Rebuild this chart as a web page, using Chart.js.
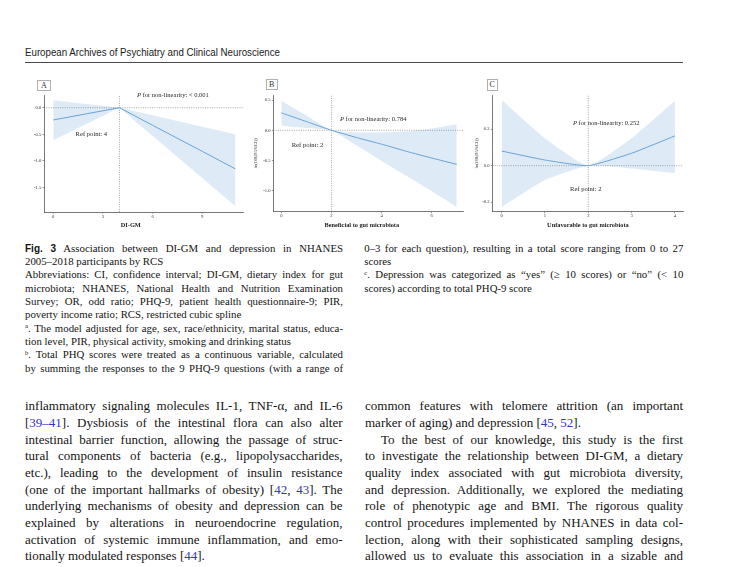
<!DOCTYPE html>
<html><head><meta charset="utf-8">
<script src="https://cdn.jsdelivr.net/npm/chart.js@4.4.0/dist/chart.umd.min.js"></script>
<style>
html,body{margin:0;padding:0;background:#fff;}
body{width:736px;height:567px;position:relative;overflow:hidden;font-family:"Liberation Serif","Times New Roman",serif;color:#141414;}
.ln{position:absolute;white-space:nowrap;}
.ln span.in{display:inline-block;white-space:nowrap;}
.cap{font-size:10.8px;height:13.33px;line-height:13.33px;}
.bd{font-size:13px;height:16.67px;line-height:16.67px;}
.ref{color:#3434c4;}
.fig{font-family:"Liberation Sans",Arial,sans-serif;font-weight:bold;font-size:10px;}
sup{font-size:0.62em;vertical-align:0;position:relative;top:-0.5em;}
.box{position:absolute;border:0.8px solid #b0b0b0;font-size:8px;text-align:center;color:#333;box-sizing:border-box;}
canvas{position:absolute;}
#hdr{position:absolute;left:25px;top:46px;font-family:"Liberation Sans",Arial,sans-serif;font-size:10.5px;line-height:12px;white-space:nowrap;transform-origin:0 50%;color:#1a1a1a;}
#rule{position:absolute;left:25px;top:62px;width:658px;height:1.4px;background:#4a4a4a;}
</style></head>
<body>
<div id="hdr">European Archives of Psychiatry and Clinical Neuroscience</div>
<div id="rule"></div>

<div class="box" style="left:37px;top:80px;width:14px;height:11px;line-height:10px;">A</div>
<div class="box" style="left:266px;top:79px;width:11.5px;height:11px;line-height:10px;">B</div>
<div class="box" style="left:486.5px;top:79px;width:11.5px;height:11.5px;line-height:10.5px;">C</div>

<canvas id="cA" width="220" height="142" style="left:28px;top:88px;width:220px;height:142px;"></canvas>
<canvas id="cB" width="218" height="142" style="left:250px;top:88px;width:218px;height:142px;"></canvas>
<canvas id="cC" width="216" height="142" style="left:472px;top:88px;width:216px;height:142px;"></canvas>

<script>
// ---------- Panel A: DI-GM ----------
const A_X      = [0, 2, 4, 6, 9, 11];
const A_FIT    = [-0.23, -0.115, 0, -0.33, -0.82, -1.15];
const A_UPPER  = [0.14, 0.07, 0, -0.14, -0.36, -0.50];
const A_LOWER  = [-0.61, -0.305, 0, -0.53, -1.32, -1.85];
const A_XTICKS = [0, 3, 6, 9];
const A_YTICKS = [0, -0.5, -1.0, -1.5];
const A_REF    = 4;
const A_XTITLE = "DI-GM";
const A_PTEXT  = " for non-linearity: < 0.001";
const A_REFTXT = "Ref point: 4";

// ---------- Panel B: Beneficial to gut microbiota ----------
const B_X      = [0, 1, 2, 3, 4, 5, 6, 7];
const B_FIT    = [0.29, 0.145, 0, -0.12, -0.23, -0.35, -0.46, -0.565];
const B_UPPER  = [0.49, 0.245, 0, -0.035, -0.035, -0.02, 0.03, 0.10];
const B_LOWER  = [0.076, 0.038, 0, -0.25, -0.51, -0.76, -1.01, -1.27];
const B_XTICKS = [0, 2, 4, 6];
const B_YTICKS = [0.5, 0, -0.5, -1.0];
const B_REF    = 2;
const B_XTITLE = "Beneficial to gut microbiota";
const B_PTEXT  = " for non-linearity: 0.784";
const B_REFTXT = "Ref point: 2";

// ---------- Panel C: Unfavorable to gut microbiota ----------
const C_X      = [0, 1, 2, 3, 4];
const C_FIT    = [0.08, 0.031, 0, 0.068, 0.163];
const C_UPPER  = [0.36, 0.15, 0, 0.15, 0.356];
const C_LOWER  = [-0.225, -0.078, 0, -0.016, -0.042];
const C_XTICKS = [0, 1, 2, 3, 4];
const C_YTICKS = [0.2, 0, -0.2];
const C_REF    = 2;
const C_XTITLE = "Unfavorable to gut microbiota";
const C_PTEXT  = " for non-linearity: 0.252";
const C_REFTXT = "Ref point: 2";

const Y_TITLE = "ln(OR(95%CI))";
const LINE_COLOR = '#5b9bd5';
const BAND_COLOR = '#deebf7';
const AXIS_COLOR = '#555';
const SERIF = '"Liberation Serif","Times New Roman",serif';

const notesPlugin = {
  id: 'notes',
  afterDraw(chart, args, opts) {
    const ctx = chart.ctx, xs = chart.scales.x, ys = chart.scales.y;
    ctx.save();
    ctx.textBaseline = 'middle';
    (opts.items || []).forEach(it => {
      ctx.fillStyle = it.color || '#2a2a2a';
      ctx.textAlign = it.align || 'left';
      let px = xs.getPixelForValue(it.x);
      const py = (it.yPix !== undefined) ? it.yPix : ys.getPixelForValue(it.y);
      const w = it.weight ? it.weight + ' ' : '';
      if (it.italic) {
        ctx.font = 'italic ' + it.size + 'px ' + SERIF;
        ctx.fillText(it.italic, px, py);
        px += ctx.measureText(it.italic).width;
      }
      ctx.font = w + it.size + 'px ' + SERIF;
      ctx.fillText(it.text, px, py);
    });
    ctx.restore();
  }
};

function pts(xArr, yArr) { return xArr.map((x, i) => ({x: x, y: yArr[i]})); }

function makePanel(id, P) {
  const ds = [
    {data: pts(P.x, P.fit), borderColor: LINE_COLOR, borderWidth: 0.9, pointRadius: 0, tension: P.tension, fill: false},
    {data: [{x: P.xmin, y: 0}, {x: P.xmax, y: 0}], borderColor: '#6f6f6f', borderWidth: 0.6, borderDash: [1, 1.3], pointRadius: 0, fill: false},
    {data: [{x: P.ref, y: P.ymin}, {x: P.ref, y: P.ymax}], borderColor: '#6f6f6f', borderWidth: 0.6, borderDash: [1, 1.3], pointRadius: 0, fill: false},
    {data: pts(P.x, P.upper), borderWidth: 0, borderColor: 'rgba(0,0,0,0)', pointRadius: 0, tension: P.tension, fill: '+1', backgroundColor: BAND_COLOR},
    {data: pts(P.x, P.lower), borderWidth: 0, borderColor: 'rgba(0,0,0,0)', pointRadius: 0, tension: P.tension, fill: false}
  ];
  const tickFont = {family: SERIF, size: 4.6};
  new Chart(document.getElementById(id), {
    type: 'line',
    data: {datasets: ds},
    plugins: [notesPlugin],
    options: {
      responsive: false, animation: false, maintainAspectRatio: false,
      layout: {padding: {top: 7, right: 5, left: 0, bottom: 0}},
      plugins: {
        legend: {display: false}, tooltip: {enabled: false},
        notes: {items: P.notes}
      },
      scales: {
        x: {
          type: 'linear', min: P.xmin, max: P.xmax,
          afterBuildTicks: s => { s.ticks = P.xticks.map(v => ({value: v})); },
          afterFit: s => { s.height = P.xh; },
          ticks: {font: tickFont, color: '#333', padding: 0.3, maxRotation: 0, callback: v => String(v)},
          grid: {display: true, drawOnChartArea: false, drawTicks: true, tickLength: 1.5, color: AXIS_COLOR, lineWidth: 0.6},
          border: {display: true, color: AXIS_COLOR, width: 0.8},
          title: {display: false}
        },
        y: {
          type: 'linear', min: P.ymin, max: P.ymax,
          afterBuildTicks: s => { s.ticks = P.yticks.map(v => ({value: v})); },
          afterFit: s => { s.width = P.yw; },
          ticks: {font: tickFont, color: '#333', padding: 1.2, callback: v => Number(v).toFixed(1)},
          grid: {display: true, drawOnChartArea: false, drawTicks: true, tickLength: 1.5, color: AXIS_COLOR, lineWidth: 0.6},
          border: {display: true, color: AXIS_COLOR, width: 0.8},
          title: {display: P.ytitleShow, text: Y_TITLE, color: '#333', font: {family: SERIF, size: 4.8}, padding: {top: P.ytp, bottom: 0}}
        }
      }
    }
  });
}

makePanel('cA', {
  x: A_X, fit: A_FIT, upper: A_UPPER, lower: A_LOWER, xticks: A_XTICKS, yticks: A_YTICKS, ref: A_REF,
  xmin: -0.56, xmax: 11.46, ymin: -1.96, ymax: 0.239, xh: 18, yw: 16, tension: 0,
  ytitleShow: false, ytp: 0,
  notes: [{x: 5.06, y: 0.225, italic: 'P', text: A_PTEXT, size: 6.5},
          {x: 1.35, y: -0.494, text: A_REFTXT, size: 6.6},
          {x: 4.68, yPix: 137, text: A_XTITLE, size: 6.3, weight: 'bold', align: 'center', color: '#222'}]
});
makePanel('cB', {
  x: B_X, fit: B_FIT, upper: B_UPPER, lower: B_LOWER, xticks: B_XTICKS, yticks: B_YTICKS, ref: B_REF,
  xmin: -0.32, xmax: 7.25, ymin: -1.351, ymax: 0.586, xh: 18.3, yw: 23.3, tension: 0.15,
  ytitleShow: true, ytp: 3.1,
  notes: [{x: 2.34, y: 0.183, italic: 'P', text: B_PTEXT, size: 6.5},
          {x: 0.415, y: -0.256, text: B_REFTXT, size: 6.6},
          {x: 3.21, yPix: 137, text: B_XTITLE, size: 6.3, weight: 'bold', align: 'center', color: '#222'}]
});
makePanel('cC', {
  x: C_X, fit: C_FIT, upper: C_UPPER, lower: C_LOWER, xticks: C_XTICKS, yticks: C_YTICKS, ref: C_REF,
  xmin: -0.217, xmax: 4.187, ymin: -0.252, ymax: 0.387, xh: 18.3, yw: 20.3, tension: 0.15,
  ytitleShow: true, ytp: 1.9,
  notes: [{x: 1.647, y: 0.232, italic: 'P', text: C_PTEXT, size: 6.5},
          {x: 1.577, y: -0.128, text: C_REFTXT, size: 6.6},
          {x: 1.99, yPix: 137, text: C_XTITLE, size: 6.3, weight: 'bold', align: 'center', color: '#222'}]
});

// ---------- page text ----------
const CAP_LEFT = [
  ['<span class="fig">Fig. 3</span> Association between DI-GM and depression in NHANES', 1],
  ['2005–2018 participants by RCS', 0],
  ['Abbreviations: CI, confidence interval; DI-GM, dietary index for gut', 1],
  ['microbiota; NHANES, National Health and Nutrition Examination', 1],
  ['Survey; OR, odd ratio; PHQ-9, patient health questionnaire-9; PIR,', 1],
  ['poverty income ratio; RCS, restricted cubic spline', 0],
  ['<sup>a</sup>. The model adjusted for age, sex, race/ethnicity, marital status, educa-', 1],
  ['tion level, PIR, physical activity, smoking and drinking status', 0],
  ['<sup>b</sup>. Total PHQ scores were treated as a continuous variable, calculated', 1],
  ['by summing the responses to the 9 PHQ-9 questions (with a range of', 1]
];
const CAP_RIGHT = [
  ['0–3 for each question), resulting in a total score ranging from 0 to 27', 1],
  ['scores', 0],
  ['<sup>c</sup>. Depression was categorized as “yes” (≥ 10 scores) or “no” (< 10', 1],
  ['scores) according to total PHQ-9 score', 0]
];
const BODY_LEFT = [
  ['inflammatory signaling molecules IL-1, TNF-α, and IL-6', 1],
  ['[<span class="ref">39–41</span>]. Dysbiosis of the intestinal flora can also alter', 1],
  ['intestinal barrier function, allowing the passage of struc-', 1],
  ['tural components of bacteria (e.g., lipopolysaccharides,', 1],
  ['etc.), leading to the development of insulin resistance', 1],
  ['(one of the important hallmarks of obesity) [<span class="ref">42</span>, <span class="ref">43</span>]. The', 1],
  ['underlying mechanisms of obesity and depression can be', 1],
  ['explained by alterations in neuroendocrine regulation,', 1],
  ['activation of systemic immune inflammation, and emo-', 1],
  ['tionally modulated responses [<span class="ref">44</span>].', 0]
];
const BODY_RIGHT = [
  ['common features with telomere attrition (an important', 1],
  ['marker of aging) and depression [<span class="ref">45</span>, <span class="ref">52</span>].', 0],
  ['To the best of our knowledge, this study is the first', 1, 16],
  ['to investigate the relationship between DI-GM, a dietary', 1],
  ['quality index associated with gut microbiota diversity,', 1],
  ['and depression. Additionally, we explored the mediating', 1],
  ['role of phenotypic age and BMI. The rigorous quality', 1],
  ['control procedures implemented by NHANES in data col-', 1],
  ['lection, along with their sophisticated sampling designs,', 1],
  ['allowed us to evaluate this association in a sizable and', 1]
];

function placeLines(lines, cls, left, width, firstCenter, step) {
  lines.forEach((ln, i) => {
    const d = document.createElement('div');
    d.className = 'ln ' + cls;
    const indent = ln[2] || 0;
    d.style.left = (left + indent) + 'px';
    const h = step;
    d.style.top = (firstCenter + i * step - h / 2) + 'px';
    const s = document.createElement('span');
    s.className = 'in';
    s.innerHTML = ln[0];
    d.appendChild(s);
    document.body.appendChild(d);
    const target = width - indent;
    const nat = s.getBoundingClientRect().width;
    const spaces = (s.textContent.match(/ /g) || []).length;
    if (ln[1] && spaces > 0) {
      s.style.wordSpacing = ((target - nat) / spaces) + 'px';
    } else if (nat > target) {
      s.style.transformOrigin = '0 50%';
      s.style.transform = 'scaleX(' + (target / nat) + ')';
    }
  });
}
placeLines(CAP_LEFT, 'cap', 25, 318, 248.3, 13.33);
placeLines(CAP_RIGHT, 'cap', 364.3, 319, 248.3, 13.33);
placeLines(BODY_LEFT, 'bd', 25, 317.5, 406.7, 16.67);
placeLines(BODY_RIGHT, 'bd', 365, 318, 406.7, 16.67);

const hdr = document.getElementById('hdr');
const hw = hdr.getBoundingClientRect().width;
hdr.style.transform = 'scaleX(' + (255 / hw) + ')';
</script>
</body></html>
